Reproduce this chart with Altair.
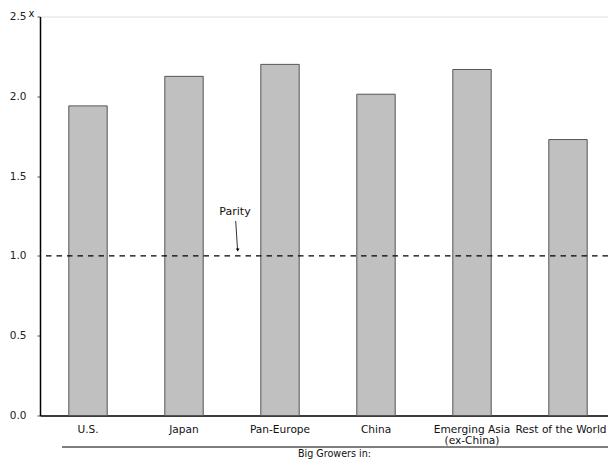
import altair as alt
import pandas as pd

categories = ["U.S.", "Japan", "Pan-Europe", "China", "Emerging Asia (ex-China)", "Rest of the World"]
values = [1.94, 2.125, 2.20, 2.013, 2.168, 1.729]
y_ticks = [0.0, 0.5, 1.0, 1.5, 2.0, 2.5]
parity = [1.0]

df = pd.DataFrame({"cat": categories, "val": values})
FONT = "DejaVu Sans"

xscale = alt.Scale(domain=categories, paddingInner=0.6, paddingOuter=0.3, range=[0, 576])
yscale = alt.Scale(domain=[0, 2.5], nice=False)

bars = alt.Chart(df).mark_bar(fill="#c0c0c0", stroke="#555555", strokeWidth=1).encode(
    x=alt.X("cat:N", scale=xscale, sort=categories,
            axis=alt.Axis(title="Big Growers in:", labelAngle=0, ticks=False,
                          domainColor="black", domainWidth=1.5,
                          labelFont=FONT, labelFontSize=10.6, labelColor="#111",
                          labelPadding=9, labelLineHeight=10.5,
                          labelOffset={"condition": {"test": "datum.label == 'Rest of the World'", "value": -7}, "value": 0},
                          labelExpr="datum.label == 'Emerging Asia (ex-China)' ? ['Emerging Asia', '(ex-China)'] : datum.label",
                          titleFont=FONT, titleFontSize=9.6, titleFontWeight="normal",
                          titleColor="#111", titleX=294, titleY=32.5, titleAlign="center",
                          titleBaseline="top")),
    y=alt.Y("val:Q", scale=yscale,
            axis=alt.Axis(values=y_ticks, format=".1f", grid=False,
                          domainColor="black", domainWidth=1.5, tickColor="#555",
                          tickSize=3, labelFont=FONT, labelFontSize=10.5, labelColor="#222",
                          labelPadding=11,
                          title="x", titleAngle=0, titleFont=FONT, titleFontSize=10,
                          titleFontWeight="normal", titleColor="#111",
                          titleX=-9, titleY=-8, titleAlign="center", titleBaseline="top")),
)

pdf = pd.DataFrame({"p": parity})
dash = alt.Chart(pdf).mark_rule(color="black", strokeWidth=1.3, strokeDash=[5.5, 5]).encode(
    y=alt.Y("p:Q", scale=yscale)
)

under = alt.Chart(pdf).mark_rule(color="black", strokeWidth=1).encode(
    x=alt.value(22), x2=alt.value(576), y=alt.value(430.5)
)

ptext = alt.Chart(pdf).mark_text(text="Parity", font=FONT, fontSize=11, color="#111").encode(
    x=alt.value(195), y=alt.value(195)
)

arrow = alt.Chart(pdf).mark_rule(color="#333", strokeWidth=1).encode(
    x=alt.value(195.7), x2=alt.value(197.5), y=alt.value(204.5), y2=alt.value(232.5)
)

head = alt.Chart(pdf).mark_point(shape="triangle-down", filled=True, color="black", size=14, opacity=1).encode(
    x=alt.value(197.7), y=alt.value(233.5)
)

chart = alt.layer(bars, dash, under, ptext, arrow, head).properties(
    width=568, height=399,
    autosize=alt.AutoSizeParams(type="none"),
    padding={"left": 32, "top": 8.5, "right": 0, "bottom": 43.5},
).configure_view(stroke=None).configure(background="white")

chart.save("out.html", embed_options={"renderer": "svg", "actions": False})
